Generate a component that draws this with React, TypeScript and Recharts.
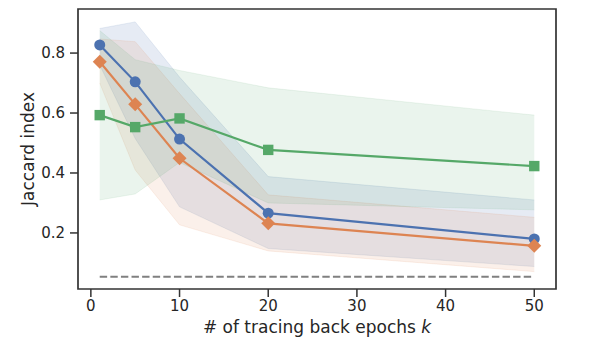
import React from 'react';
import {
  ComposedChart,
  Area,
  Line,
  XAxis,
  YAxis,
  ReferenceArea,
  Label,
} from 'recharts';

const epochs = [1, 5, 10, 20, 50];

// blue circles
const circleMean = [0.827, 0.704, 0.513, 0.266, 0.18];
const circleLow = [0.76, 0.515, 0.287, 0.148, 0.088];
const circleHigh = [0.882, 0.904, 0.72, 0.388, 0.31];

// orange diamonds
const diamondMean = [0.771, 0.629, 0.449, 0.232, 0.157];
const diamondLow = [0.7, 0.41, 0.227, 0.14, 0.071];
const diamondHigh = [0.847, 0.838, 0.665, 0.327, 0.252];

// green squares
const squareMean = [0.593, 0.553, 0.582, 0.477, 0.423];
const squareLow = [0.31, 0.33, 0.435, 0.3, 0.277];
const squareHigh = [0.875, 0.778, 0.742, 0.684, 0.593];

const baseline = [0.054, 0.054, 0.054, 0.054, 0.054];

const xTicks = [0, 10, 20, 30, 40, 50];
const yTicks = [0.2, 0.4, 0.6, 0.8];

const BLUE = '#4C72B0';
const ORANGE = '#DD8452';
const GREEN = '#55A868';
const INK = '#262626';
const FONT = '"DejaVu Sans", sans-serif';

const X_DOMAIN: [number, number] = [-1.45, 52.45];
const Y_DOMAIN: [number, number] = [0.013, 0.947];

const data = epochs.map((k, i) => ({
  k,
  circle: circleMean[i],
  circleBand: [circleLow[i], circleHigh[i]],
  diamond: diamondMean[i],
  diamondBand: [diamondLow[i], diamondHigh[i]],
  square: squareMean[i],
  squareBand: [squareLow[i], squareHigh[i]],
  baseline: baseline[i],
}));

const CircleDot = (props: any) => (
  <circle key={`c${props.index}`} cx={props.cx} cy={props.cy} r={5.5} fill={BLUE} />
);

const DiamondDot = (props: any) => {
  const { cx, cy } = props;
  const s = 7;
  return (
    <polygon
      key={`d${props.index}`}
      points={`${cx},${cy - s} ${cx + s},${cy} ${cx},${cy + s} ${cx - s},${cy}`}
      fill={ORANGE}
    />
  );
};

const SquareDot = (props: any) => (
  <rect
    key={`s${props.index}`}
    x={props.cx - 5.2}
    y={props.cy - 5.2}
    width={10.4}
    height={10.4}
    fill={GREEN}
  />
);

const tickStyle = { fill: INK, fontSize: 15, fontFamily: FONT };

export default function App() {
  return (
    <div style={{ position: 'absolute', left: 0, top: 0, background: '#fff' }}>
      <ComposedChart
        width={598}
        height={344}
        data={data}
        margin={{ top: 9, right: 42, bottom: 0, left: 0 }}
      >
        <XAxis
          dataKey='k'
          type='number'
          domain={X_DOMAIN}
          allowDataOverflow
          ticks={xTicks}
          height={55}
          tickSize={8}
          tickMargin={3}
          tick={tickStyle}
          stroke={INK}
          tickLine={{ stroke: '#333', strokeWidth: 1.5 }}
          axisLine={false}
        >
          <Label
            content={(p: any) => {
              const vb = p.viewBox || {};
              return (
                <text
                  x={vb.x + vb.width / 2}
                  y={vb.y + 44}
                  textAnchor='middle'
                  fill={INK}
                  fontSize={17}
                  fontFamily={FONT}
                >
                  # of tracing back epochs <tspan fontStyle='italic'>k</tspan>
                </text>
              );
            }}
          />
        </XAxis>
        <YAxis
          type='number'
          domain={Y_DOMAIN}
          allowDataOverflow
          ticks={yTicks}
          width={78}
          tickSize={8}
          tickMargin={5}
          tick={tickStyle}
          tickFormatter={(v: number) => v.toFixed(1)}
          stroke={INK}
          tickLine={{ stroke: '#333', strokeWidth: 1.5 }}
          axisLine={false}
        >
          <Label
            content={(p: any) => {
              const vb = p.viewBox || {};
              const cx = 28;
              const cy = vb.y + vb.height / 2;
              return (
                <text
                  x={cx}
                  y={cy}
                  textAnchor='middle'
                  dominantBaseline='central'
                  transform={`rotate(-90 ${cx} ${cy})`}
                  fill={INK}
                  fontSize={17}
                  fontFamily={FONT}
                >
                  Jaccard index
                </text>
              );
            }}
          />
        </YAxis>

        <Area
          dataKey='circleBand'
          type='linear'
          fill={BLUE}
          fillOpacity={0.14}
          stroke={BLUE}
          strokeOpacity={0.12}
          strokeWidth={1}
          dot={false}
          activeDot={false}
          isAnimationActive={false}
        />
        <Area
          dataKey='diamondBand'
          type='linear'
          fill={ORANGE}
          fillOpacity={0.12}
          stroke={ORANGE}
          strokeOpacity={0.12}
          strokeWidth={1}
          dot={false}
          activeDot={false}
          isAnimationActive={false}
        />
        <Area
          dataKey='squareBand'
          type='linear'
          fill={GREEN}
          fillOpacity={0.12}
          stroke={GREEN}
          strokeOpacity={0.1}
          strokeWidth={1}
          dot={false}
          activeDot={false}
          isAnimationActive={false}
        />

        <Line
          dataKey='baseline'
          type='linear'
          stroke='#808080'
          strokeWidth={2}
          strokeDasharray='7.4 3.2'
          dot={false}
          activeDot={false}
          isAnimationActive={false}
        />
        <Line
          dataKey='circle'
          type='linear'
          stroke={BLUE}
          strokeWidth={2.2}
          dot={CircleDot}
          activeDot={false}
          isAnimationActive={false}
        />
        <Line
          dataKey='diamond'
          type='linear'
          stroke={ORANGE}
          strokeWidth={2.2}
          dot={DiamondDot}
          activeDot={false}
          isAnimationActive={false}
        />
        <Line
          dataKey='square'
          type='linear'
          stroke={GREEN}
          strokeWidth={2.2}
          dot={SquareDot}
          activeDot={false}
          isAnimationActive={false}
        />

        <ReferenceArea
          x1={X_DOMAIN[0]}
          x2={X_DOMAIN[1]}
          y1={Y_DOMAIN[0]}
          y2={Y_DOMAIN[1]}
          fill='none'
          stroke='#333'
          strokeWidth={1.7}
          ifOverflow='visible'
        />
      </ComposedChart>
    </div>
  );
}
